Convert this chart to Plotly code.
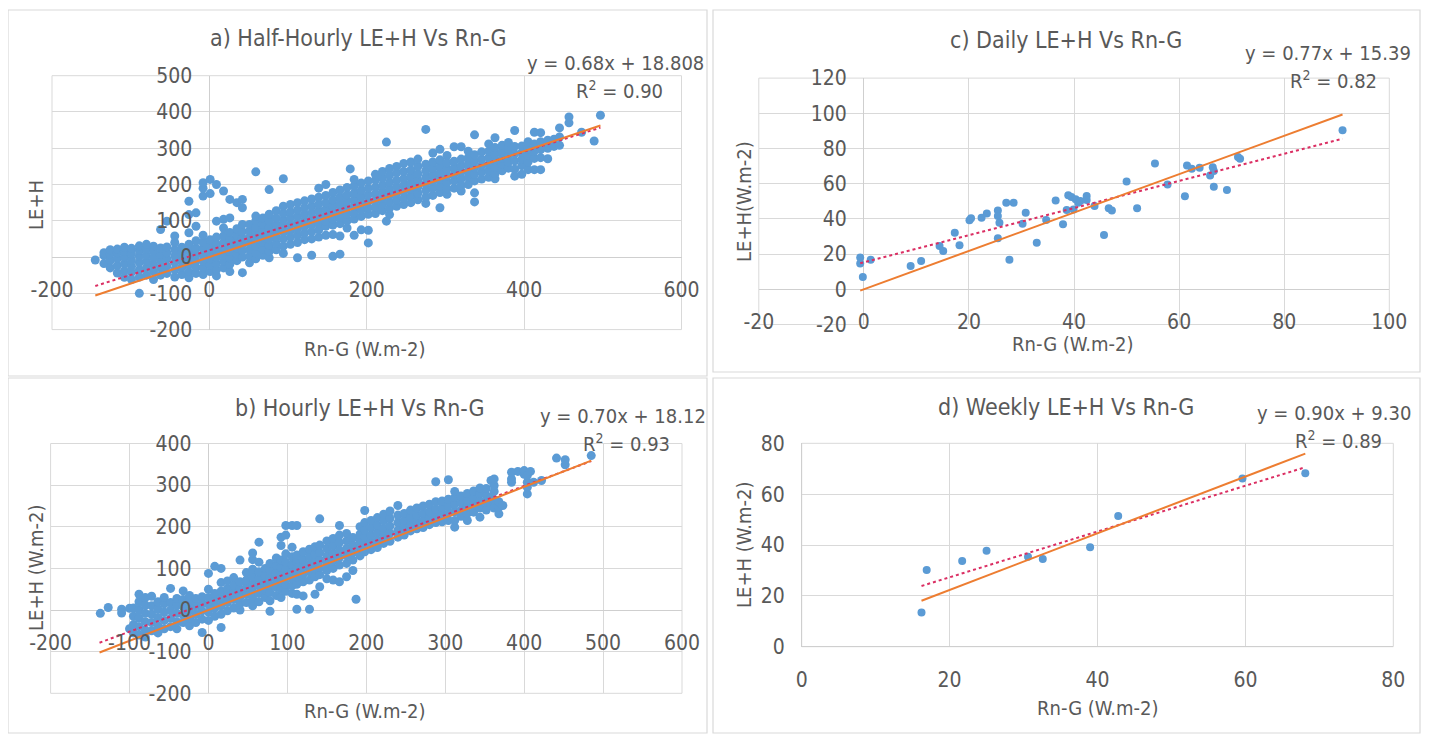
import plotly.graph_objects as go

W, H = 1431, 735
OFF = 8  # the page body adds an 8 px margin around the figure
FONT = "Liberation Sans Narrow, Arial Narrow, DejaVu Sans Condensed, sans-serif"
TXT = "#595959"
BLUE = "#5B9BD5"
ORANGE = "#ED7D31"
RED = "#DB2F63"
GRID = "#D9D9D9"
ZERO = "#CFCFCF"

# ---------------- data ----------------
# a) half-hourly: (Rn-G, [LE+H values]) columns
HH_COLS = [
    (-145, [-8]),
    (-134, [-18, 4, 12]),
    (-126, [-30, -10, 8, 20]),
    (-117, [-44, -24, -4, 12, 22]),
    (-108, [-56, -38, -18, 0, 16, 27]),
    (-99, [-62, -42, -25, -8, 9, 24]),
    (-89, [-100, -55, -35, -15, 2, 18, 31]),
    (-80, [-50, -30, -12, 5, 22, 35]),
    (-71, [-62, -40, -20, -2, 15, 30]),
    (-62, [-50, -30, -10, 8, 25, 76]),
    (-54, [-45, -25, -5, 12, 28, 99]),
    (-44, [-55, -35, -15, 3, 20, 40, 58]),
    (-35, [-48, -28, -8, 10, 27]),
    (-26, [-57, -40, -20, -2, 18, 35, 67, 117, 154]),
    (-17, [-45, -28, -10, 8, 25, 45, 85, 122]),
    (-8, [-48, -30, -12, 5, 22, 40, 60, 168, 190, 205]),
    (1, [-40, -22, -5, 12, 30, 48, 175, 214]),
    (9, [-52, -35, -18, 0, 18, 35, 55, 99, 200]),
    (18, [-30, -12, 5, 22, 40, 58, 80, 104, 182]),
    (26, [-40, -20, -2, 15, 32, 50, 68, 108, 159]),
    (35, [-10, 8, 25, 42, 60, 78, 150]),
    (42, [-43, 0, 18, 35, 52, 70, 90, 136, 159]),
    (51, [-16, 2, 20, 38, 55, 72, 90]),
    (59, [-5, 12, 30, 48, 65, 82, 100, 113, 235]),
    (68, [5, 22, 40, 56, 72, 90, 108]),
    (76, [-2, 15, 32, 50, 66, 82, 100, 118, 186]),
    (85, [20, 38, 55, 72, 90, 108, 128]),
    (94, [10, 30, 50, 68, 85, 102, 120, 140, 216]),
    (103, [35, 55, 72, 90, 108, 125, 145]),
    (112, [-2, 40, 60, 78, 95, 112, 130, 150]),
    (121, [48, 66, 84, 100, 118, 136, 155]),
    (130, [5, 50, 70, 88, 105, 122, 140, 160]),
    (139, [55, 75, 92, 110, 128, 146, 165, 190]),
    (148, [60, 85, 98, 115, 132, 150, 170, 200]),
    (157, [2, 62, 88, 105, 122, 140, 158, 178]),
    (166, [8, 58, 92, 110, 128, 146, 165, 185]),
    (175, [80, 100, 118, 136, 154, 172, 192]),
    (179, [243]),
    (184, [60, 105, 122, 140, 158, 176, 196, 214]),
    (193, [75, 112, 130, 148, 166, 184, 204]),
    (202, [39, 74, 118, 136, 154, 172, 190, 210]),
    (211, [120, 138, 156, 174, 192, 212, 228]),
    (220, [128, 145, 162, 180, 198, 218, 236]),
    (225, [99, 317]),
    (229, [117, 135, 152, 170, 188, 206, 226, 244]),
    (238, [140, 158, 176, 194, 212, 232, 250]),
    (247, [145, 162, 180, 198, 216, 236, 258]),
    (256, [150, 168, 186, 204, 222, 240, 262]),
    (265, [158, 176, 194, 212, 230, 250, 270]),
    (275, [148, 165, 184, 202, 220, 238, 256, 352]),
    (284, [170, 190, 208, 226, 244, 262, 287]),
    (293, [136, 178, 196, 214, 232, 250, 268, 297]),
    (302, [173, 188, 206, 224, 242, 260, 280]),
    (311, [190, 210, 228, 246, 264, 304]),
    (320, [182, 198, 216, 234, 252, 270, 304]),
    (329, [200, 220, 238, 256, 274, 292]),
    (337, [152, 177, 210, 228, 246, 264, 282, 337]),
    (346, [215, 234, 252, 270, 290]),
    (355, [220, 238, 256, 274, 292, 312]),
    (363, [216, 230, 248, 266, 284, 302, 329]),
    (372, [238, 255, 272, 290, 308]),
    (380, [245, 262, 280, 298, 316]),
    (388, [223, 242, 265, 285, 305, 349]),
    (397, [228, 252, 270, 288, 306]),
    (405, [241, 262, 280, 298, 318]),
    (413, [241, 272, 292, 312, 344]),
    (421, [241, 274, 296, 318, 343]),
    (430, [271, 300, 322]),
    (438, [305, 325]),
    (445, [308, 331, 356]),
    (457, [370, 386]),
    (473, [344]),
    (489, [320]),
    (497, [391]),
]

# b) hourly: (Rn-G, [LE+H values]) columns
HR_COLS = [
    (-137, [-8]),
    (-127, [6]),
    (-110, [2, -7]),
    (-100, [4, -45]),
    (-95, [-55, -35, -15, 5]),
    (-88, [-60, -40, -20, 0, 20, 38]),
    (-80, [-65, -48, -28, -8, 12, 30]),
    (-72, [-50, -30, -10, 10, 33]),
    (-64, [-55, -38, -18, 2, 20]),
    (-56, [-45, -25, -5, 15, 30]),
    (-48, [-40, -20, 0, 18, 52]),
    (-40, [-45, -28, -8, 12, 28]),
    (-32, [-30, -12, 8, 25, 46]),
    (-24, [-38, -20, 0, 18, 35]),
    (-16, [-30, -10, 10, 28]),
    (-8, [-54, -22, -2, 16, 32]),
    (0, [-25, -5, 14, 30, 50, 88]),
    (8, [-15, 5, 22, 40, 105]),
    (16, [-42, -10, 10, 28, 45, 66, 100]),
    (24, [-2, 18, 35, 52, 70]),
    (32, [5, 25, 42, 60, 78]),
    (40, [0, 15, 32, 50, 68, 120]),
    (48, [18, 38, 42, 55, 72, 90]),
    (56, [10, 28, 45, 62, 80, 98, 121, 137]),
    (64, [20, 40, 58, 75, 92, 115, 163]),
    (72, [30, 48, 65, 82, 100]),
    (78, [-3, 22, 42, 60, 78, 96, 112]),
    (86, [35, 55, 72, 90, 108, 125]),
    (92, [30, 50, 68, 85, 102, 120, 155, 175]),
    (98, [45, 62, 80, 98, 115, 135, 180, 203]),
    (106, [40, 58, 75, 92, 110, 128, 151, 203]),
    (112, [2, 38, 62, 80, 98, 115, 123, 132, 203]),
    (120, [34, 68, 86, 104, 122, 140]),
    (128, [2, 72, 92, 110, 128, 146]),
    (135, [38, 80, 98, 116, 134, 152]),
    (141, [56, 85, 102, 120, 138, 156, 219]),
    (150, [75, 95, 112, 130, 148, 166]),
    (158, [72, 100, 118, 136, 154, 172]),
    (166, [68, 108, 126, 144, 162, 180, 203]),
    (175, [80, 112, 130, 148, 166, 184]),
    (183, [95, 120, 138, 156, 174]),
    (187, [26]),
    (192, [130, 148, 165, 182, 200]),
    (198, [140, 158, 175, 192, 210, 239]),
    (206, [145, 163, 180, 198, 215]),
    (214, [150, 168, 186, 204, 222]),
    (222, [160, 178, 196, 214, 230]),
    (230, [165, 185, 202, 220, 238]),
    (240, [175, 192, 210, 228, 251]),
    (248, [180, 198, 215, 232]),
    (256, [190, 205, 222, 240]),
    (264, [195, 212, 228, 245]),
    (272, [198, 215, 232, 250]),
    (280, [205, 220, 236, 254]),
    (288, [210, 226, 242, 260, 308]),
    (296, [212, 230, 246, 262]),
    (304, [215, 232, 250, 266, 313]),
    (312, [199, 215, 236, 254, 270, 285]),
    (320, [225, 240, 258, 274]),
    (328, [215, 232, 248, 264, 280]),
    (336, [235, 252, 268, 286]),
    (344, [223, 245, 262, 280, 293]),
    (352, [240, 258, 275, 292]),
    (358, [255, 270, 311]),
    (362, [245, 265, 285, 299, 315]),
    (368, [231, 247, 260]),
    (373, [251]),
    (384, [307, 315, 331]),
    (392, [333]),
    (400, [326, 335]),
    (404, [279, 295, 307, 323]),
    (408, [333]),
    (412, [307]),
    (422, [311]),
    (441, [365]),
    (452, [349, 361]),
    (485, [371]),
]

# c) daily
DAILY_X = [-0.7, -0.7, -0.2, 1.3, 8.9, 10.9, 14.4, 15.1, 17.3, 18.2, 20.1, 20.4,
           22.4, 23.4, 25.5, 25.5, 25.8, 25.5, 27.1, 28.5, 27.7, 30.2, 30.8, 32.9,
           34.7, 36.5, 37.9, 38.6, 38.9, 39.5, 39.9, 40.3, 40.8, 41.2, 42.4, 42.4,
           43.9, 45.7, 46.6, 47.2, 50.0, 52.0, 55.4, 57.8, 61.1, 61.5, 62.4, 63.9,
           65.9, 66.4, 66.6, 66.6, 69.1, 71.2, 71.6, 91.1]
DAILY_Y = [18.0, 14.6, 7.0, 16.8, 13.2, 16.1, 24.6, 21.8, 32.2, 25.0, 39.2, 40.3,
           40.7, 43.0, 44.8, 41.6, 37.8, 29.0, 49.2, 49.2, 16.8, 37.3, 43.5, 26.5,
           39.4, 50.5, 36.9, 45.0, 53.4, 52.4, 45.4, 51.1, 49.2, 50.1, 53.0, 50.7,
           47.3, 30.8, 46.0, 44.8, 61.3, 46.0, 71.5, 59.6, 52.8, 70.4, 68.5, 69.1,
           64.7, 69.4, 67.2, 58.3, 56.4, 75.1, 74.2, 90.3]

# d) weekly
WEEKLY_X = [16.2, 16.9, 21.7, 25.0, 30.6, 32.6, 39.0, 42.8, 59.6, 68.1]
WEEKLY_Y = [13.5, 30.2, 33.7, 37.7, 35.4, 34.5, 39.1, 51.4, 66.2, 68.2]

# trend lines (a, b, c, d)
TREND_SLOPE = [0.68, 0.70, 0.77, 0.90]
TREND_INTERCEPT = [18.808, 18.12, 15.39, 9.30]
ORIGIN_SLOPE = [0.73, 0.74, 1.09, 1.115]
LINE_X_START = [-145, -138, -0.7, 16.2]
LINE_X_END = [497, 485, 91.1, 68.1]

TITLES = ["a) Half-Hourly LE+H Vs Rn-G", "b) Hourly LE+H Vs Rn-G",
          "c) Daily LE+H Vs Rn-G", "d) Weekly LE+H Vs Rn-G"]
EQUATIONS = ["y = 0.68x + 18.808", "y = 0.70x + 18.12",
             "y = 0.77x + 15.39", "y = 0.90x + 9.30"]
R2_VALUES = ["0.90", "0.93", "0.82", "0.89"]
Y_TITLES = ["LE+H", "LE+H (W.m-2)", "LE+H(W.m-2)", "LE+H (W.m-2)"]
X_TITLE = "Rn-G (W.m-2)"

X_RANGES = [[-200, 600], [-200, 600], [-20, 100], [0, 80]]
Y_RANGES = [[-200, 500], [-200, 400], [-20, 120], [0, 80]]
X_TICKS = [[-200, 0, 200, 400, 600],
           [-200, -100, 0, 100, 200, 300, 400, 500, 600],
           [-20, 0, 20, 40, 60, 80, 100],
           [0, 20, 40, 60, 80]]
Y_TICKS = [[-200, -100, 0, 100, 200, 300, 400, 500],
           [-200, -100, 0, 100, 200, 300, 400],
           [-20, 0, 20, 40, 60, 80, 100, 120],
           [0, 20, 40, 60, 80]]


def flatten(cols):
    xs, ys = [], []
    for x, yl in cols:
        for y in yl:
            xs.append(x)
            ys.append(y)
    return xs, ys


hh_x, hh_y = flatten(HH_COLS)
hr_x, hr_y = flatten(HR_COLS)
SCATTER = [(hh_x, hh_y, 9), (hr_x, hr_y, 9), (DAILY_X, DAILY_Y, 8), (WEEKLY_X, WEEKLY_Y, 8)]

# ---------------- layout geometry (screen pixels) ----------------
# plot area: left, right, top, bottom
PLOT_BOX = [(52, 681.5, 75.7, 329.6), (50.6, 682, 443.5, 693.3),
            (758.8, 1389.3, 78.1, 324.5), (801.7, 1393.3, 443.3, 646.7)]
PANEL_BOX = [(8, 707, 10, 376), (8, 707, 378, 733),
             (713, 1420, 10, 372), (713, 1420, 378, 733)]
TITLE_POS = [(358, 38), (360, 408), (1066, 40), (1066, 407)]
EQ_POS = [(706, 63), (708, 416), (1413, 53), (1413, 413)]
R2_POS = [(665, 90), (672, 443), (1379, 80), (1384, 440)]
YT_POS = [(36, 205), (36, 568), (744, 202), (744, 545)]
XT_POS = [(365, 349), (365, 711), (1073, 344), (1098, 708)]


def fx(px):
    return (px - OFF) / W


def fy(py):
    return 1 - (py - OFF) / H


def label(v):
    return str(v)  # plain hyphen minus, as in the reference


fig = go.Figure()
layout = dict(width=W, height=H,
              margin=dict(l=0, r=0, t=0, b=0, pad=0, autoexpand=False),
              paper_bgcolor="white", plot_bgcolor="white", showlegend=False,
              font=dict(family=FONT, color=TXT))
shapes, annotations = [], []

for i in range(4):
    n = i + 1
    xs = "x" if n == 1 else f"x{n}"
    ys = "y" if n == 1 else f"y{n}"
    xa = "xaxis" if n == 1 else f"xaxis{n}"
    ya = "yaxis" if n == 1 else f"yaxis{n}"
    l, r, t, b = PLOT_BOX[i]
    dx = [fx(l), fx(r)]
    dy = [fy(b), fy(t)]
    xr, yr = X_RANGES[i], Y_RANGES[i]
    xpos = dy[0] + (0 - yr[0]) / (yr[1] - yr[0]) * (dy[1] - dy[0])
    ypos = dx[0] + (0 - xr[0]) / (xr[1] - xr[0]) * (dx[1] - dx[0])

    common = dict(showgrid=True, gridcolor=GRID, gridwidth=1, zeroline=True,
                  zerolinecolor=ZERO, zerolinewidth=1, showline=False, ticks="",
                  tickfont=dict(family=FONT, size=21, color=TXT), fixedrange=True,
                  automargin=False, tickmode="array")
    layout[xa] = dict(common, domain=dx, range=xr, anchor="free", position=xpos,
                      tickvals=X_TICKS[i], ticktext=[label(v) for v in X_TICKS[i]],
                      ticklabelstandoff=18)
    layout[ya] = dict(common, domain=dy, range=yr, anchor="free", position=ypos,
                      side="left", tickvals=Y_TICKS[i],
                      ticktext=[label(v) for v in Y_TICKS[i]], ticklabelstandoff=17)

    sx, sy, ms = SCATTER[i]
    fig.add_trace(go.Scatter(x=sx, y=sy, mode="markers", xaxis=xs, yaxis=ys,
                             marker=dict(color=BLUE, size=ms, line=dict(width=0)),
                             hoverinfo="skip"))
    x0, x1 = LINE_X_START[i], LINE_X_END[i]
    fig.add_trace(go.Scatter(x=[x0, x1],
                             y=[TREND_SLOPE[i] * x0 + TREND_INTERCEPT[i],
                                TREND_SLOPE[i] * x1 + TREND_INTERCEPT[i]],
                             mode="lines", xaxis=xs, yaxis=ys,
                             line=dict(color=RED, width=2, dash="dot"), hoverinfo="skip"))
    fig.add_trace(go.Scatter(x=[x0, x1], y=[ORIGIN_SLOPE[i] * x0, ORIGIN_SLOPE[i] * x1],
                             mode="lines", xaxis=xs, yaxis=ys,
                             line=dict(color=ORANGE, width=2), hoverinfo="skip"))

    # plot-area frame and panel border
    shapes.append(dict(type="rect", xref="paper", yref="paper", x0=dx[0], x1=dx[1],
                       y0=dy[0], y1=dy[1], line=dict(color=GRID, width=1), layer="below"))
    pl, pr, pt, pb = PANEL_BOX[i]
    shapes.append(dict(type="rect", xref="paper", yref="paper", x0=fx(pl), x1=fx(pr),
                       y0=fy(pb), y1=fy(pt), line=dict(color="#D9D9D9", width=1.2),
                       layer="below"))

    annotations.append(dict(text=TITLES[i], x=fx(TITLE_POS[i][0]), y=fy(TITLE_POS[i][1]),
                            xref="paper", yref="paper", showarrow=False, xanchor="center",
                            yanchor="middle", font=dict(family=FONT, size=23, color=TXT)))
    annotations.append(dict(text=EQUATIONS[i], x=fx(EQ_POS[i][0]), y=fy(EQ_POS[i][1]),
                            xref="paper", yref="paper", showarrow=False, xanchor="right",
                            yanchor="middle", font=dict(family=FONT, size=20, color=TXT)))
    annotations.append(dict(text="R<sup>2</sup> = " + R2_VALUES[i], x=fx(R2_POS[i][0]),
                            y=fy(R2_POS[i][1]), xref="paper", yref="paper", showarrow=False,
                            xanchor="right", yanchor="middle",
                            font=dict(family=FONT, size=20, color=TXT)))
    annotations.append(dict(text=Y_TITLES[i], x=fx(YT_POS[i][0]), y=fy(YT_POS[i][1]),
                            xref="paper", yref="paper", showarrow=False, textangle=-90,
                            xanchor="center", yanchor="middle",
                            font=dict(family=FONT, size=20, color=TXT)))
    annotations.append(dict(text=X_TITLE, x=fx(XT_POS[i][0]), y=fy(XT_POS[i][1]),
                            xref="paper", yref="paper", showarrow=False, xanchor="center",
                            yanchor="middle", font=dict(family=FONT, size=20, color=TXT)))

layout["shapes"] = shapes
layout["annotations"] = annotations
fig.update_layout(**layout)
fig.write_html("out.html")
